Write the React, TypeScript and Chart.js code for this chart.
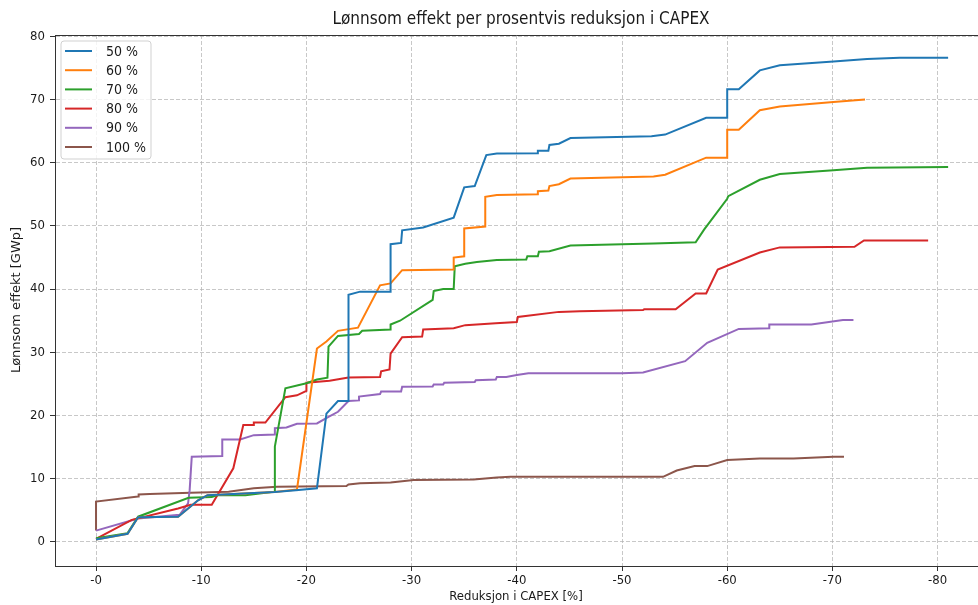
import React, { useEffect, useRef } from "react";
import { Chart, registerables } from "chart.js";

Chart.register(...registerables);

const TITLE = "Lønnsom effekt per prosentvis reduksjon i CAPEX";
const X_LABEL = "Reduksjon i CAPEX [%]";
const Y_LABEL = "Lønnsom effekt [GWp]";

const SERIES_LABELS = ["50 %", "60 %", "70 %", "80 %", "90 %", "100 %"];
const SERIES_COLORS = ["#1f77b4", "#ff7f0e", "#2ca02c", "#d62728", "#9467bd", "#8c564b"];

const X_TICKS = [0, 10, 20, 30, 40, 50, 60, 70, 80];
const Y_TICKS = [0, 10, 20, 30, 40, 50, 60, 70, 80];

const x50 = [0, 3, 4, 7.8, 9.7, 10.6, 17, 19, 21, 21.9, 23, 24, 24, 25.1, 28, 28, 29, 29.1, 31.1, 34, 35, 36, 37.1, 38.1, 42, 42, 43, 43.1, 44, 45.1, 52.8, 54.1, 58, 60, 60, 61.1, 63.1, 65, 70.1, 73.3, 76.4, 81];
const y50 = [0.4, 1.3, 3.9, 4.0, 6.6, 7.4, 7.9, 8.2, 8.5, 20.3, 22.3, 22.3, 39.1, 39.6, 39.6, 47.1, 47.3, 49.3, 49.75, 51.3, 56.1, 56.3, 61.2, 61.45, 61.5, 61.9, 61.9, 62.8, 63.0, 63.9, 64.2, 64.45, 67.1, 67.1, 71.6, 71.6, 74.6, 75.4, 76.0, 76.4, 76.6, 76.6];

const x60 = [0, 3, 4, 7.8, 9.7, 10.6, 17, 19.1, 21, 21.9, 23, 24.9, 27, 28, 29.1, 34, 34, 35, 35, 37, 37, 38.1, 42, 42, 43, 43.1, 44, 45.1, 53, 54.1, 58, 60, 60, 61.1, 63.1, 65, 70.1, 73.1];
const y60 = [0.4, 1.3, 3.9, 4.0, 6.6, 7.4, 7.9, 8.3, 30.6, 31.7, 33.4, 33.9, 40.6, 40.9, 43.0, 43.1, 45.0, 45.2, 49.6, 49.9, 54.6, 54.9, 55.0, 55.5, 55.6, 56.3, 56.6, 57.5, 57.8, 58.1, 60.8, 60.8, 65.2, 65.2, 68.3, 68.9, 69.6, 70.0];

const x70 = [0, 3, 4, 8.8, 11, 11.5, 14.2, 17, 17, 18, 20, 21, 22, 22.1, 23, 25, 25.3, 28, 28, 28.9, 32, 32.1, 33, 34, 34.1, 35.1, 36.2, 38.1, 40.9, 41, 42, 42.1, 43.1, 45.1, 53, 57, 57.8, 60, 60.1, 63.1, 65, 70.1, 73.3, 81];
const y70 = [0.6, 1.4, 4.0, 7.0, 7.1, 7.4, 7.4, 7.95, 15.1, 24.3, 25.1, 25.7, 26.0, 30.9, 32.6, 32.9, 33.4, 33.6, 34.4, 35.0, 38.3, 39.7, 40.0, 40.0, 43.6, 44.0, 44.3, 44.6, 44.7, 45.2, 45.2, 45.9, 46.0, 46.9, 47.2, 47.4, 49.4, 54.3, 54.7, 57.3, 58.2, 58.8, 59.2, 59.3];

const x80 = [0, 3.4, 7.8, 9, 11, 13.05, 14, 14.95, 15, 16.1, 18, 19.1, 20, 20, 22.2, 24, 27, 27.1, 27.9, 28, 29.1, 31, 31.1, 34, 35.1, 38, 40, 40.1, 44, 46, 52, 52.1, 55.1, 57, 58, 59.1, 63.1, 65, 72.1, 73, 79.1];
const y80 = [0.5, 3.5, 5.3, 5.9, 5.9, 11.65, 18.5, 18.5, 18.9, 18.9, 22.9, 23.2, 23.9, 25.2, 25.5, 26.0, 26.1, 27.0, 27.3, 29.8, 32.4, 32.5, 33.6, 33.8, 34.3, 34.6, 34.8, 35.6, 36.4, 36.5, 36.7, 36.8, 36.8, 39.3, 39.3, 43.1, 45.8, 46.6, 46.7, 47.7, 47.7];

const x90 = [0, 4, 7.95, 8.75, 8.9, 9.1, 12, 12, 13.7, 15, 17, 17, 18.1, 19.1, 21, 22.1, 23, 24, 25, 25, 27, 27.1, 29, 29.1, 32, 32.1, 33, 33.1, 36, 36.1, 38, 38.1, 39, 40, 41.1, 50, 52, 56, 58.1, 61.1, 64, 64, 68, 71, 72];
const y90 = [1.8, 3.7, 4.3, 6.1, 8.2, 13.5, 13.6, 16.2, 16.2, 16.9, 17.0, 18.0, 18.1, 18.7, 18.75, 19.8, 20.6, 22.3, 22.4, 23.0, 23.4, 23.8, 23.8, 24.55, 24.6, 24.9, 24.9, 25.2, 25.3, 25.6, 25.7, 26.1, 26.1, 26.4, 26.7, 26.7, 26.8, 28.6, 31.5, 33.7, 33.8, 34.4, 34.4, 35.1, 35.1];

const x100 = [0, 0, 4, 4.05, 5.1, 9, 12.6, 15, 17.2, 23.8, 24, 25.1, 28, 30.2, 35.9, 38.1, 39.4, 46, 53.9, 55.2, 56.9, 58.1, 60, 63.1, 66.3, 70.1, 71.1];
const y100 = [1.8, 6.4, 7.2, 7.5, 7.6, 7.8, 7.95, 8.5, 8.75, 8.85, 9.1, 9.3, 9.4, 9.8, 9.9, 10.2, 10.3, 10.3, 10.3, 11.3, 12.0, 12.0, 12.96, 13.2, 13.2, 13.5, 13.5];

const SERIES_X = [x50, x60, x70, x80, x90, x100];
const SERIES_Y = [y50, y60, y70, y80, y90, y100];

const COND = '"DejaVu Sans Condensed", "DejaVu Sans", sans-serif';
const REG = '"DejaVu Sans", sans-serif';
const TEXT = "#1a1a1a";

const decorPlugin = {
  id: "decor",
  afterDraw(chart: any) {
    const { ctx, chartArea } = chart;
    const { left, right, top } = chartArea;
    ctx.save();
    ctx.setLineDash([]);
    // top spine
    ctx.strokeStyle = "#333";
    ctx.lineWidth = 1;
    ctx.beginPath();
    ctx.moveTo(left, top + 0.5);
    ctx.lineTo(right, top + 0.5);
    ctx.stroke();

    // title
    ctx.fillStyle = TEXT;
    ctx.font = `17px ${COND}`;
    ctx.textAlign = "center";
    ctx.textBaseline = "middle";
    ctx.fillText(TITLE, 521, 20);

    // x label
    ctx.font = `13px ${COND}`;
    ctx.fillText(X_LABEL, 516, 597);

    // y label
    ctx.save();
    ctx.translate(17, 300);
    ctx.rotate(-Math.PI / 2);
    ctx.font = `13px ${REG}`;
    ctx.fillText(Y_LABEL, 0, 0);
    ctx.restore();

    // legend
    const bx = 61, by = 41, bw = 90, bh = 118, r = 3;
    ctx.beginPath();
    ctx.moveTo(bx + r, by);
    ctx.lineTo(bx + bw - r, by);
    ctx.quadraticCurveTo(bx + bw, by, bx + bw, by + r);
    ctx.lineTo(bx + bw, by + bh - r);
    ctx.quadraticCurveTo(bx + bw, by + bh, bx + bw - r, by + bh);
    ctx.lineTo(bx + r, by + bh);
    ctx.quadraticCurveTo(bx, by + bh, bx, by + bh - r);
    ctx.lineTo(bx, by + r);
    ctx.quadraticCurveTo(bx, by, bx + r, by);
    ctx.closePath();
    ctx.fillStyle = "rgba(255,255,255,0.8)";
    ctx.fill();
    ctx.strokeStyle = "rgba(204,204,204,0.9)";
    ctx.lineWidth = 1;
    ctx.stroke();

    ctx.font = `14px ${COND}`;
    ctx.textAlign = "left";
    ctx.textBaseline = "middle";
    SERIES_LABELS.forEach((lab, i) => {
      const yy = 51 + i * 19.2;
      ctx.strokeStyle = SERIES_COLORS[i];
      ctx.lineWidth = 2;
      ctx.beginPath();
      ctx.moveTo(65, yy);
      ctx.lineTo(92, yy);
      ctx.stroke();
      ctx.fillStyle = TEXT;
      ctx.fillText(lab, 106, yy + 1);
    });
    ctx.restore();
  },
};

export default function App() {
  const ref = useRef<HTMLCanvasElement | null>(null);
  useEffect(() => {
    if (!ref.current) return;
    const datasets = SERIES_LABELS.map((label, i) => ({
      label,
      data: SERIES_X[i].map((x, j) => ({ x, y: SERIES_Y[i][j] })),
      borderColor: SERIES_COLORS[i],
      backgroundColor: SERIES_COLORS[i],
      borderWidth: 2,
      pointRadius: 0,
      tension: 0,
      fill: false,
    }));
    const gridStyle = {
      color: "rgba(176,176,176,0.7)",
      tickColor: "#333",
      tickLength: 5,
      tickBorderDash: [],
    };
    const borderStyle = { color: "#333", width: 1, dash: [4, 2] };
    const chart = new Chart(ref.current, {
      type: "line",
      data: { datasets },
      plugins: [decorPlugin],
      options: {
        animation: false,
        responsive: false,
        maintainAspectRatio: false,
        layout: { padding: { top: 35, left: 0, right: 0, bottom: 0 } },
        plugins: { legend: { display: false }, title: { display: false }, tooltip: { enabled: false } },
        scales: {
          x: {
            type: "linear",
            min: -3.9,
            max: 83.84,
            afterBuildTicks: (s: any) => { s.ticks = X_TICKS.map((v) => ({ value: v })); },
            afterFit: (s: any) => { s.height = 39; },
            ticks: {
              callback: (v: any) => "-" + v,
              font: { family: COND, size: 13 },
              color: TEXT,
              padding: 2,
              maxRotation: 0,
            },
            grid: gridStyle,
            border: borderStyle,
          },
          y: {
            type: "linear",
            min: -3.8,
            max: 80.2,
            afterBuildTicks: (s: any) => { s.ticks = Y_TICKS.map((v) => ({ value: v })); },
            afterFit: (s: any) => { s.width = 55; },
            ticks: {
              font: { family: COND, size: 13 },
              color: TEXT,
              padding: 5,
            },
            grid: gridStyle,
            border: borderStyle,
          },
        },
      },
    } as any);
    return () => chart.destroy();
  }, []);
  return (
    <div style={{ position: "fixed", left: 0, top: 0, width: 978, height: 605, background: "#fff" }}>
      <canvas ref={ref} width={978} height={605} style={{ display: "block", width: 978, height: 605 }} />
    </div>
  );
}
